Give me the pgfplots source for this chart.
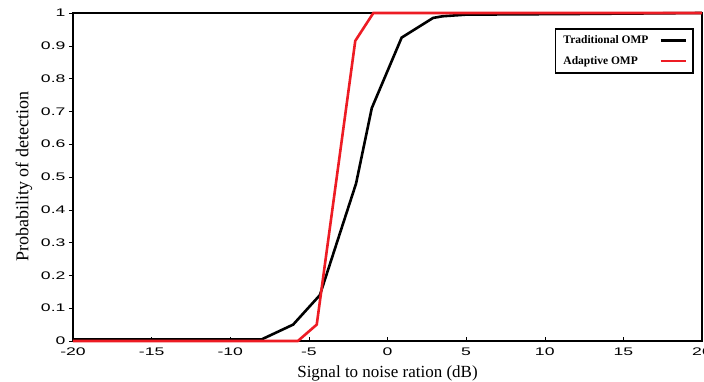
\documentclass[border=0pt]{standalone}
\usepackage{fontspec}
\setmainfont{Liberation Serif}
\newfontfamily\tickfont[FakeStretch=1.6]{Liberation Sans}
\usepackage{pgfplots}
\pgfplotsset{compat=1.18}
\definecolor{myred}{RGB}{237,28,36}
\begin{document}
\begin{tikzpicture}
\begin{axis}[
  name=ax,
  scale only axis,
  width=629pt, height=328pt,
  xmin=-20, xmax=20, ymin=0, ymax=1,
  xtick={-20,-15,...,20},
  ytick={0,0.1,...,1},
  yticklabels={0,0.1,0.2,0.3,0.4,0.5,0.6,0.7,0.8,0.9,1},
  /pgf/number format/assume math mode=true,
  tick label style={font=\tickfont\fontsize{11}{12}\selectfont},
  xticklabel style={yshift=-3pt},
  yticklabel style={xshift=0pt},
  xtick pos=bottom, ytick pos=left,
  xtick align=inside, ytick align=outside,
  major tick length=4pt,
  tick style={black, line width=0.5pt},
  axis line style={line width=2.6pt},
  xlabel={Signal to noise ration (dB)},
  ylabel={Probability of detection},
  xlabel style={font=\fontsize{17}{19}\selectfont, at={(axis description cs:0.5,0)}, anchor=center, yshift=-32pt},
  ylabel style={font=\fontsize{18}{20}\selectfont, at={(axis description cs:0,0.5)}, anchor=center, xshift=0pt, yshift=49pt},
  legend plot pos=right,
  legend cell align=left,
  legend style={at={(0.987,0.955)}, anchor=north east, draw=black, line width=1.8pt,
    font=\bfseries\fontsize{11.5}{13}\selectfont, row sep=7pt, column sep=9pt, inner xsep=6pt, inner ysep=5pt},
  legend image code/.code={\draw[#1, line width=2.4pt] (0pt,0pt) -- (25pt,0pt);},
  clip=false,
]
\addplot[black, line width=2.6pt] coordinates {
  (-20,0.005) (-8,0.005) (-6,0.05) (-4.3,0.14) (-2,0.48) (-1,0.71) (0.9,0.925) (2.9,0.985) (3.5,0.99) (5,0.995) (12,0.997) (20,1.0)
};
\addlegendentry{Traditional OMP}
\addplot[myred, line width=2.6pt] coordinates {
  (-20,0) (-5.7,0) (-4.5,0.05) (-2.05,0.915) (-0.9,1.0) (20,1.0)
};
\addlegendentry{Adaptive OMP}
\end{axis}
\pgfresetboundingbox
\path[use as bounding box] ([xshift=-73pt,yshift=-41pt]ax.south west) rectangle ([xshift=2pt,yshift=13pt]ax.north east);
\end{tikzpicture}
\end{document}
